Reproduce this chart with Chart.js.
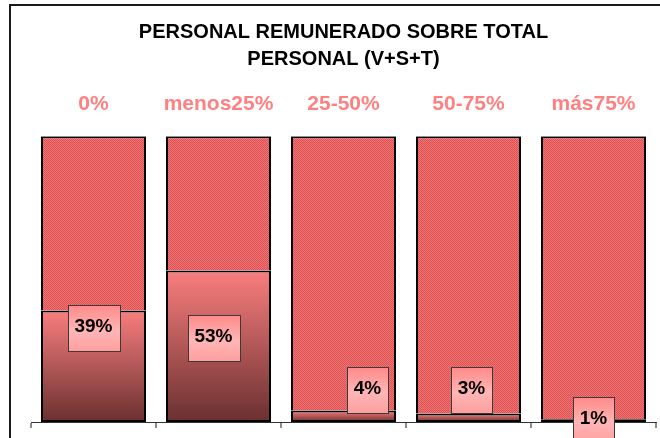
<!DOCTYPE html>
<html>
<head>
<meta charset="utf-8">
<script src="https://cdn.jsdelivr.net/npm/chart.js@4"></script>
<style>
  html, body { margin: 0; padding: 0; background: #fff; }
  #wrap { width: 660px; height: 438px; }
</style>
</head>
<body>
<div id="wrap"><canvas id="remChart" width="660" height="438"></canvas></div>
<script>
(function () {
  'use strict';

  var titleLines = ['PERSONAL REMUNERADO SOBRE TOTAL', 'PERSONAL (V+S+T)'];
  var categories = ['0%', 'menos25%', '25-50%', '50-75%', 'más75%'];
  var remunerado = [39, 53, 4, 3, 1];
  var resto = [61, 47, 96, 97, 99];

  // where each value box sits: height on the 0-100 scale, sideways nudge in px
  var boxLevel = [32.9, 29.4, 11.3, 11.3, 0.7];
  var boxNudge = [0, -5, 24, 3, 0];

  Chart.defaults.font.family = "'Liberation Sans', Arial, sans-serif";

  // dotted fill for the upper part of the bars
  var pc = document.createElement('canvas');
  pc.width = 2; pc.height = 2;
  var p = pc.getContext('2d');
  p.fillStyle = '#f07474'; p.fillRect(0, 0, 2, 2);
  p.fillStyle = '#dc5252'; p.fillRect(0, 0, 1, 1); p.fillRect(1, 1, 1, 1);
  var dotted = p.createPattern(pc, 'repeat');

  function shadeFill(ctx) {
    var chart = ctx.chart;
    if (!chart.chartArea) return '#b05a5a';
    var y = chart.scales.y;
    var top = y.getPixelForValue(ctx.raw);
    var bottom = y.getPixelForValue(0);
    if (bottom - top < 1) top = bottom - 1;
    var g = chart.ctx.createLinearGradient(0, top, 0, bottom);
    g.addColorStop(0, '#fa7e7e');
    g.addColorStop(1, '#6a3030');
    return g;
  }

  var frame = {
    id: 'frame',
    beforeDraw: function (chart) {
      var c = chart.ctx;
      c.save();
      c.fillStyle = '#fff';
      c.fillRect(0, 0, chart.width, chart.height);
      c.strokeStyle = '#1a1a1a';
      c.lineWidth = 2;
      c.beginPath();
      c.moveTo(10, chart.height);
      c.lineTo(10, 5);
      c.lineTo(chart.width, 5);
      c.stroke();
      c.restore();
    }
  };

  var valueBoxes = {
    id: 'valueBoxes',
    afterDatasetsDraw: function (chart) {
      var c = chart.ctx;
      var meta = chart.getDatasetMeta(0);
      var y = chart.scales.y;
      c.save();
      c.font = 'bold 19px ' + Chart.defaults.font.family;
      c.textAlign = 'center';
      c.textBaseline = 'middle';
      meta.data.forEach(function (el, i) {
        var txt = remunerado[i] + '%';
        var w = Math.round(c.measureText(txt).width + 14);
        var h = 46;
        var cx = el.x + boxNudge[i];
        var cy = y.getPixelForValue(boxLevel[i]);
        var x0 = Math.round(cx - w / 2) + 0.5;
        var y0 = Math.round(cy - h / 2) + 0.5;
        var g = c.createLinearGradient(0, y0, 0, y0 + h);
        g.addColorStop(0, '#ff8a8a');
        g.addColorStop(0.55, '#ffb6b6');
        g.addColorStop(1, '#ff9e9e');
        c.fillStyle = g;
        c.fillRect(x0, y0, w, h);
        c.strokeStyle = '#3a3a3a';
        c.lineWidth = 1;
        c.strokeRect(x0, y0, w, h);
        c.fillStyle = '#000';
        c.fillText(txt, cx, cy - 1);
      });
      c.restore();
    }
  };

  new Chart(document.getElementById('remChart'), {
    type: 'bar',
    data: {
      labels: categories,
      datasets: [{
        label: 'Remunerado',
        data: remunerado,
        backgroundColor: shadeFill,
        borderColor: '#000',
        borderWidth: { top: 2, left: 2, right: 2, bottom: 2 },
        borderSkipped: false,
        barPercentage: 0.84,
        categoryPercentage: 1
      }, {
        label: 'Resto',
        data: resto,
        backgroundColor: dotted,
        borderColor: '#000',
        borderWidth: { top: 2, left: 2, right: 2, bottom: 0 },
        borderSkipped: false,
        barPercentage: 0.84,
        categoryPercentage: 1
      }]
    },
    options: {
      responsive: false,
      animation: false,
      layout: { padding: { top: 5, left: 31, right: 4, bottom: 10 } },
      plugins: {
        legend: { display: false },
        tooltip: { enabled: false },
        title: {
          display: true,
          text: titleLines,
          color: '#000',
          font: { size: 20, weight: 'bold', lineHeight: 1.35 },
          padding: { top: 14, bottom: 0 }
        }
      },
      scales: {
        x: {
          position: 'top',
          stacked: true,
          grid: { display: false, drawTicks: false },
          border: { display: false },
          ticks: {
            color: '#ff8080',
            font: { size: 21, weight: 'bold' },
            padding: 19,
            maxRotation: 0
          }
        },
        x2: {
          type: 'category',
          labels: categories,
          position: 'bottom',
          offset: true,
          grid: {
            offset: true,
            drawOnChartArea: false,
            tickLength: 6,
            color: '#8c8c8c',
            lineWidth: 2
          },
          border: { display: true, color: '#333', width: 1 },
          ticks: { display: false }
        },
        y: {
          stacked: true,
          display: false,
          min: 0,
          max: 100
        }
      }
    },
    plugins: [frame, valueBoxes]
  });
})();
</script>
</body>
</html>
